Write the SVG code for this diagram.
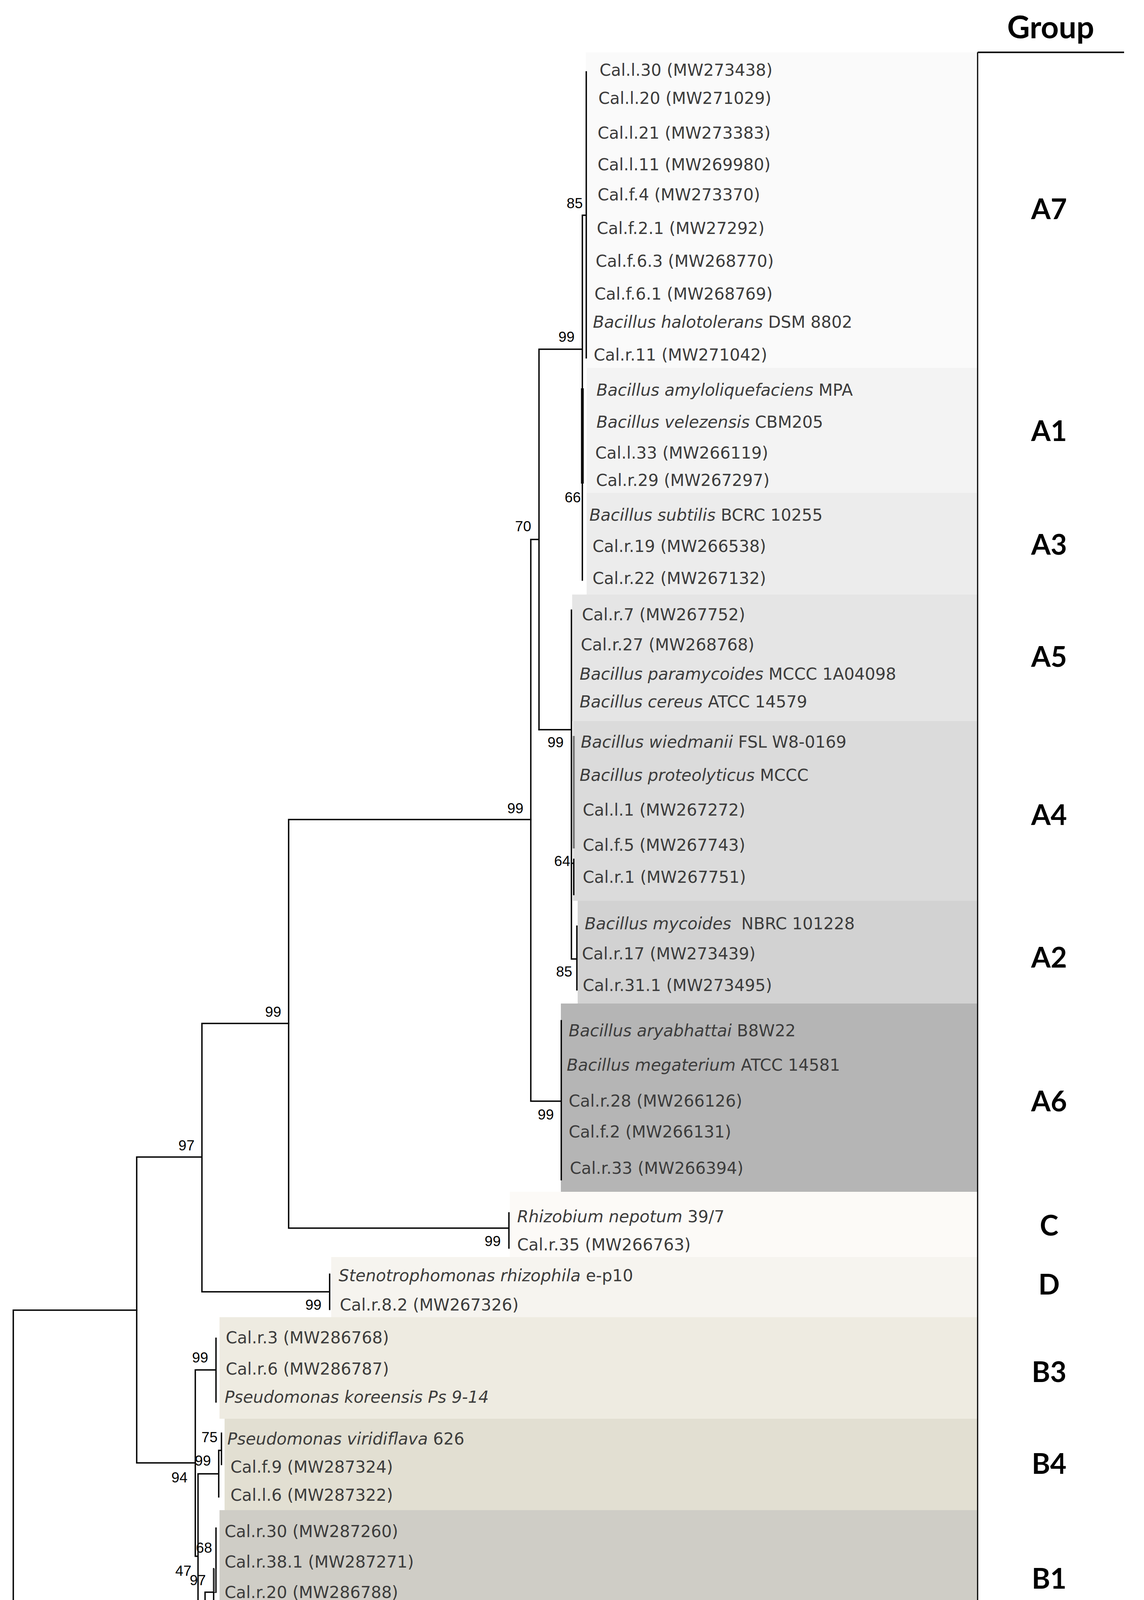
<svg xmlns="http://www.w3.org/2000/svg" width="2929" height="4850" viewBox="0 0 2929 4850">
<style>
.tl{stroke:#000;stroke-width:3.5;fill:none;stroke-linecap:square}
.lb{font-family:"DejaVu Sans","Open Sans",sans-serif;font-size:42px;fill:#3c3c3c}
.it{font-style:italic}
.bs{font-family:"Liberation Sans",Arial,sans-serif;font-size:37px;fill:#000;text-anchor:end}
.grp{font-family:Lato,"Liberation Sans",sans-serif;font-weight:bold;font-size:72px;text-anchor:middle;fill:#000}
</style>
<rect width="2929" height="4850" fill="#fff"/>
<g id="clade-A7">
<rect x="1500" y="134" width="1003" height="808" fill="#fafafa"/>
<text class="lb" x="1535" y="194">Cal.l.30 (MW273438)</text>
<text class="lb" x="1532" y="266">Cal.l.20 (MW271029)</text>
<text class="lb" x="1530" y="355">Cal.l.21 (MW273383)</text>
<text class="lb" x="1530" y="436">Cal.l.11 (MW269980)</text>
<text class="lb" x="1530" y="513">Cal.f.4 (MW273370)</text>
<text class="lb" x="1528" y="599">Cal.f.2.1 (MW27292)</text>
<text class="lb" x="1525" y="683">Cal.f.6.3 (MW268770)</text>
<text class="lb" x="1522" y="767">Cal.f.6.1 (MW268769)</text>
<text class="lb" x="1518" y="839"><tspan class="it">Bacillus halotolerans</tspan> DSM 8802</text>
<text class="lb" x="1520" y="923">Cal.r.11 (MW271042)</text>
<text class="grp" x="2686" y="561">A7</text>
</g>
<g id="clade-A1">
<rect x="1502" y="942" width="1001" height="320" fill="#f3f3f3"/>
<text class="lb" x="1527" y="1013"><tspan class="it">Bacillus amyloliquefaciens</tspan> MPA</text>
<text class="lb" x="1527" y="1095"><tspan class="it">Bacillus velezensis</tspan> CBM205</text>
<text class="lb" x="1524" y="1174">Cal.l.33 (MW266119)</text>
<text class="lb" x="1526" y="1244">Cal.r.29 (MW267297)</text>
<text class="grp" x="2686" y="1129">A1</text>
</g>
<g id="clade-A3">
<rect x="1502" y="1262" width="1001" height="260" fill="#ececec"/>
<text class="lb" x="1509" y="1333"><tspan class="it">Bacillus subtilis</tspan> BCRC 10255</text>
<text class="lb" x="1517" y="1413">Cal.r.19 (MW266538)</text>
<text class="lb" x="1517" y="1495">Cal.r.22 (MW267132)</text>
<text class="grp" x="2686" y="1420">A3</text>
</g>
<g id="clade-A5">
<rect x="1465" y="1522" width="1038" height="324" fill="#e5e5e5"/>
<text class="lb" x="1490" y="1588">Cal.r.7 (MW267752)</text>
<text class="lb" x="1487" y="1665">Cal.r.27 (MW268768)</text>
<text class="lb" x="1484" y="1740"><tspan class="it">Bacillus paramycoides</tspan> MCCC 1A04098</text>
<text class="lb" x="1484" y="1811"><tspan class="it">Bacillus cereus</tspan> ATCC 14579</text>
<text class="grp" x="2686" y="1707">A5</text>
</g>
<g id="clade-A4">
<rect x="1467" y="1846" width="1036" height="460" fill="#dbdbdb"/>
<text class="lb" x="1487" y="1914"><tspan class="it">Bacillus wiedmanii</tspan> FSL W8-0169</text>
<text class="lb" x="1484" y="1999"><tspan class="it">Bacillus proteolyticus</tspan> MCCC</text>
<text class="lb" x="1492" y="2088">Cal.l.1 (MW267272)</text>
<text class="lb" x="1492" y="2178">Cal.f.5 (MW267743)</text>
<text class="lb" x="1492" y="2260">Cal.r.1 (MW267751)</text>
<text class="grp" x="2686" y="2112">A4</text>
</g>
<g id="clade-A2">
<rect x="1479" y="2306" width="1024" height="263" fill="#d2d2d2"/>
<text class="lb" x="1497" y="2379"><tspan class="it">Bacillus mycoides</tspan><tspan dx="26">NBRC 101228</tspan></text>
<text class="lb" x="1490" y="2456">Cal.r.17 (MW273439)</text>
<text class="lb" x="1492" y="2537">Cal.r.31.1 (MW273495)</text>
<text class="grp" x="2686" y="2477">A2</text>
</g>
<g id="clade-A6">
<rect x="1436" y="2569" width="1067" height="482" fill="#b5b5b5"/>
<text class="lb" x="1456" y="2653"><tspan class="it">Bacillus aryabhattai</tspan> B8W22</text>
<text class="lb" x="1451" y="2741"><tspan class="it">Bacillus megaterium</tspan> ATCC 14581</text>
<text class="lb" x="1456" y="2833">Cal.r.28 (MW266126)</text>
<text class="lb" x="1456" y="2912">Cal.f.2 (MW266131)</text>
<text class="lb" x="1459" y="3005">Cal.r.33 (MW266394)</text>
<text class="grp" x="2686" y="2845">A6</text>
</g>
<g id="clade-C">
<rect x="1305" y="3051" width="1198" height="167" fill="#fcfaf7"/>
<text class="lb" x="1324" y="3129"><tspan class="it">Rhizobium nepotum</tspan> 39/7</text>
<text class="lb" x="1324" y="3201">Cal.r.35 (MW266763)</text>
<text class="grp" x="2686" y="3163">C</text>
</g>
<g id="clade-D">
<rect x="848" y="3218" width="1655" height="154" fill="#f6f4ef"/>
<text class="lb" x="867" y="3280"><tspan class="it">Stenotrophomonas rhizophila</tspan> e-p10</text>
<text class="lb" x="870" y="3355">Cal.r.8.2 (MW267326)</text>
<text class="grp" x="2686" y="3314">D</text>
</g>
<g id="clade-B3">
<rect x="562" y="3372" width="1941" height="260" fill="#eeebe1"/>
<text class="lb" x="578" y="3439">Cal.r.3 (MW286768)</text>
<text class="lb" x="578" y="3519">Cal.r.6 (MW286787)</text>
<text class="lb it" x="575" y="3591">Pseudomonas koreensis Ps 9-14</text>
<text class="grp" x="2686" y="3538">B3</text>
</g>
<g id="clade-B4">
<rect x="575" y="3632" width="1928" height="234" fill="#e2dfd2"/>
<text class="lb" x="582" y="3698"><tspan class="it">Pseudomonas viridiflava</tspan> 626</text>
<text class="lb" x="590" y="3770">Cal.f.9 (MW287324)</text>
<text class="lb" x="590" y="3842">Cal.l.6 (MW287322)</text>
<text class="grp" x="2686" y="3773">B4</text>
</g>
<g id="clade-B1">
<rect x="562" y="3866" width="1941" height="330" fill="#cfcdc6"/>
<text class="lb" x="575" y="3935">Cal.r.30 (MW287260)</text>
<text class="lb" x="575" y="4013">Cal.r.38.1 (MW287271)</text>
<text class="lb" x="575" y="4091">Cal.r.20 (MW286788)</text>
<text class="lb" x="570" y="4163"><tspan class="it">Pseudomonas frederiksbergensis</tspan><tspan dx="26">DSM 13022</tspan></text>
<text class="grp" x="2686" y="4067">B1</text>
</g>
<g id="clade-B2">
<rect x="551" y="4196" width="1952" height="318" fill="#c2c2c2"/>
<text class="lb" x="562" y="4258"><tspan class="it">Pseudomonas kilonensis</tspan><tspan dx="26">520-20</tspan></text>
<text class="lb" x="567" y="4336">Cal.r.37.1 (MW287272)</text>
<text class="lb" x="567" y="4417">Cal.r.21 (MW288015)</text>
<text class="lb" x="567" y="4489">Cal.r.15 (MW288016)</text>
<text class="grp" x="2686" y="4393">B2</text>
</g>
<g id="clade-E">
<rect x="1205" y="4514" width="1298" height="170" fill="#bcbcbc"/>
<text class="lb" x="1304" y="4578"><tspan class="it">Pantoea agglomerans</tspan> LA131</text>
<text class="lb" x="1538" y="4659">Cal.l.7a</text>
<text class="grp" x="2686" y="4629">E</text>
</g>
<g id="header">
<text x="2690" y="98" font-family="Lato,'Liberation Sans',sans-serif" font-weight="bold" font-size="80" text-anchor="middle" fill="#000">Group</text>
<line x1="2503" y1="134" x2="2878" y2="134" stroke="#000" stroke-width="4"/>
<line x1="2503" y1="134" x2="2503" y2="4684" stroke="#000" stroke-width="3"/>
</g>
<g id="connectors">
<path class="tl" d="M34 3354V4603M34 3354H350M34 4603H1205M1205 4563V4644M1205 4563H1292M1205 4644H1507"/>
<path class="tl" d="M350 2962V3745M350 2962H517M350 3745H500M517 2620V3307M517 2620H739M517 3307H844M844 3262V3352"/>
<path class="tl" d="M739 2098V3144M739 2098H1359M739 3144H1303M1303 3105V3195"/>
<path class="tl" d="M1359 1381V2819M1359 2819H1437M1437 2613V3020M1359 1381H1380M1380 894V1868M1380 894H1491M1491 551V1485M1501 184V916M1491 551H1501"/>
<line x1="1491" y1="994" x2="1491" y2="1238" stroke="#000" stroke-width="7"/>
<path class="tl" d="M1380 1868H1463M1463 1562V2455M1463 2210H1469M1469 2200V2290M1463 2455H1477M1477 2371V2534"/>
<line x1="1469" y1="1884" x2="1469" y2="2172" stroke="#777" stroke-width="5"/>
<path class="tl" d="M500 3507V3984M500 3507H553M553 3426V3589M500 3984H507M507 3773V4195M507 3773H560M560 3713V3832M560 3713H567M567 3669V3749"/>
<path class="tl" d="M507 4195H525M525 4076V4319M525 4076H553M553 3912V4076M547 4016V4155M525 4319H537M537 4235V4399M537 4235H547M537 4399H546M546 4319V4482"/>
<line x1="550" y1="4016" x2="550" y2="4076" stroke="#777" stroke-width="5"/>
</g>
<g id="bootstrap">
<text class="bs" x="1492" y="533">85</text>
<text class="bs" x="1471" y="875">99</text>
<text class="bs" x="1487" y="1286">66</text>
<text class="bs" x="1360" y="1360">70</text>
<text class="bs" x="1443" y="1913">99</text>
<text class="bs" x="1460" y="2217">64</text>
<text class="bs" x="1465" y="2500">85</text>
<text class="bs" x="1418" y="2866">99</text>
<text class="bs" x="1340" y="2082">99</text>
<text class="bs" x="720" y="2603">99</text>
<text class="bs" x="498" y="2945">97</text>
<text class="bs" x="1282" y="3190">99</text>
<text class="bs" x="823" y="3353">99</text>
<text class="bs" x="480" y="3795">94</text>
<text class="bs" x="533" y="3488">99</text>
<text class="bs" x="540" y="3752">99</text>
<text class="bs" x="557" y="3692">75</text>
<text class="bs" x="543" y="3975">68</text>
<text class="bs" x="490" y="4034">47</text>
<text class="bs" x="527" y="4058">97</text>
<text class="bs" x="505" y="4245">70</text>
<text class="bs" x="520" y="4365">66</text>
<text class="bs" x="533" y="4448">89</text>
<text class="bs" x="1191" y="4650">99</text>
</g>
<g id="scale-bar">
<path class="tl" d="M216 4762H428M216 4747V4777M428 4747V4777"/>
<text x="322" y="4815" font-family="'Liberation Sans',Arial,sans-serif" font-size="34" text-anchor="middle" fill="#000">0.05</text>
</g>
</svg>
